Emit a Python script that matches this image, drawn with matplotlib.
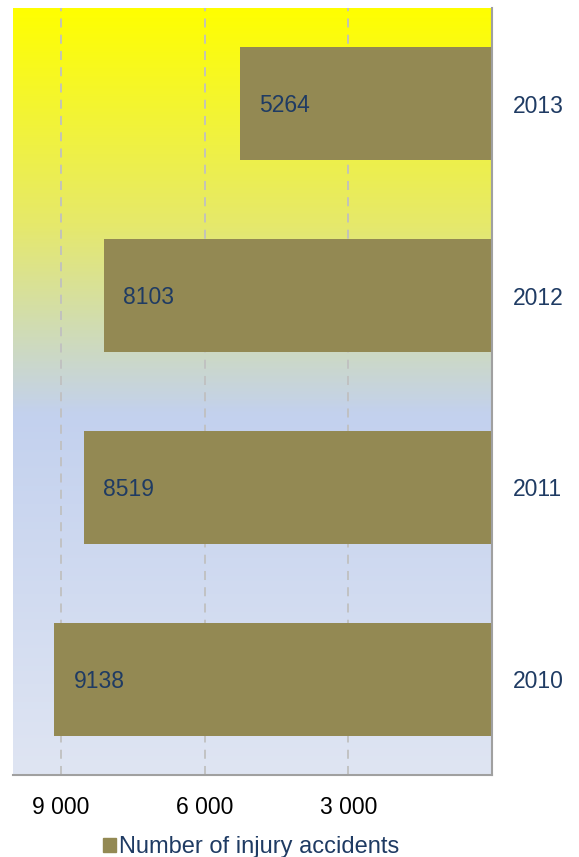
import numpy as np
import matplotlib.pyplot as plt
from matplotlib.colors import LinearSegmentedColormap

plt.rcParams['font.family'] = ['Liberation Sans', 'DejaVu Sans']

# data
years = ['2010', '2011', '2012', '2013']
accidents = [9138, 8519, 8103, 5264]
ticks = [9000, 6000, 3000]
tick_labels = ['9 000', '6 000', '3 000']

navy = '#1F3B63'
bar_color = '#938953'

fig = plt.figure(figsize=(5.79, 8.57), dpi=100)
ax = fig.add_axes([0.0225, 0.0957, 0.8275, 0.895])

# background gradient, yellow at the top to pale blue at the bottom
grad = LinearSegmentedColormap.from_list('bg', [
    (0.0, '#FFFF00'),
    (0.28, '#E6E96A'),
    (0.42, '#D0DCB4'),
    (0.53, '#C3D1EE'),
    (1.0, '#DFE5F3'),
])
ax.imshow(np.linspace(0, 1, 256).reshape(-1, 1), cmap=grad, aspect='auto',
          extent=[0, 1, 0, 1], transform=ax.transAxes, zorder=0)

y = np.arange(len(years))
ax.barh(y, accidents, height=0.59, color=bar_color, zorder=2)

# value labels inside the bars
for yi, v in zip(y, accidents):
    ax.text(v - 400, yi - 0.01, str(v), ha='left', va='center',
            fontsize=16.5, color=navy, zorder=3)

ax.set_xlim(10000, 0)
ax.set_ylim(-0.5, 3.5)
ax.set_xticks(ticks)
ax.set_xticklabels(tick_labels)
ax.set_yticks(y)
ax.set_yticklabels(years)
ax.yaxis.tick_right()
ax.tick_params(axis='x', length=0, pad=15, labelsize=16.5, labelcolor='black')
ax.tick_params(axis='y', length=0, pad=15, labelsize=16.5, labelcolor=navy)

ax.grid(axis='x', color='#C0C0C0', linestyle=(0, (5, 4)), linewidth=1.3, zorder=1)
ax.set_axisbelow(True)

for s in ['top', 'left']:
    ax.spines[s].set_visible(False)
for s in ['bottom', 'right']:
    ax.spines[s].set_color('#A0A0A0')
    ax.spines[s].set_linewidth(1.5)

# legend
handle = plt.Rectangle((0, 0), 1, 1, color=bar_color)
leg = fig.legend([handle], ['Number of injury accidents'], loc='center',
                 bbox_to_anchor=(251 / 579, 1 - 847 / 857), frameon=False,
                 fontsize=17, handlelength=0.55, handleheight=0.55,
                 handletextpad=0.15, borderpad=0, borderaxespad=0)
for t in leg.get_texts():
    t.set_color(navy)

fig.savefig('out.png', dpi=100)
